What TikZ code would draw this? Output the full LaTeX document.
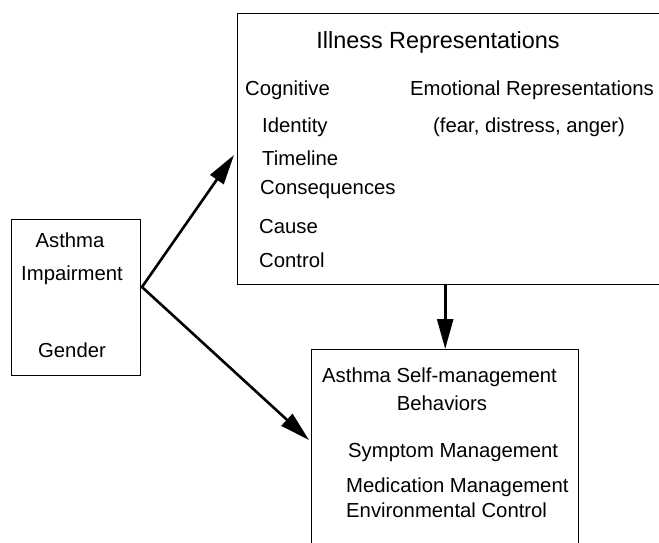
\documentclass[tikz,border=0pt]{standalone}
\usepackage{fontspec}
\setmainfont{Liberation Sans}
\usetikzlibrary{arrows.meta}

\begin{document}
\begin{tikzpicture}[x = 1pt, y = -1pt,
	box/.style = {draw, line width = 1.4pt, inner sep = 0pt, anchor = north west},
	txt/.style = {inner sep = 0pt, font = \fontsize{20.3}{23}\selectfont},
	lbl/.style = {txt, anchor = west},
	link/.style = {line width = 2.6pt, line cap = round, -{Triangle[length = 30pt, width = 16pt]}}]
	%	frame
	\useasboundingbox (0, 0) rectangle (659, 542);
	\clip (0, 0) rectangle (659, 542);
	\fill[white] (0, 0) rectangle (659, 542);
	
	%	boxes
	\node[box, minimum width = 129pt, minimum height = 156pt] (impair) at (11, 219) {};
	\node[box, minimum width = 440pt, minimum height = 271pt] (illness) at (237, 13) {};
	\node[box, minimum width = 267pt, minimum height = 220pt] (selfman) at (311, 349) {};
	
	%	left box
	\node[txt] (asthma) at (70, 240) {Asthma};
	\node[txt] (impairment) at (72, 275) {Impairment};
	\node[txt] (gender) at (72, 350) {Gender};
	
	%	illness representations
	\node[txt, font = \fontsize{23.4}{26}\selectfont] (title) at (438, 42) {Illness Representations};
	\node[lbl] (cognitive) at (245, 90) {Cognitive};
	\node[lbl] (identity) at (262, 127) {Identity};
	\node[lbl] (timeline) at (262, 158) {Timeline};
	\node[lbl] (consequences) at (260, 190) {Consequences};
	\node[lbl] (cause) at (259, 227) {Cause};
	\node[lbl] (control) at (259, 260) {Control};
	\node[lbl] (emotional) at (410, 90) {Emotional Representations};
	\node[lbl] (feelings) at (433, 127) {(fear, distress, anger)};
	
	%	self-management
	\node[lbl] (selftitle) at (322, 377) {Asthma Self-management};
	\node[txt] (behaviors) at (442, 403) {Behaviors};
	\node[lbl] (symptom) at (348, 453) {Symptom Management};
	\node[lbl] (medication) at (346, 487) {Medication Management};
	\node[lbl] (environment) at (346, 510) {Environmental Control};
	
	%	arrows
	\coordinate (fork) at (142, 287);
	\coordinate (illin) at (234, 155);
	\coordinate (selfin) at (309, 440);
	\draw[link] (fork) -- (illin);
	\draw[link] (fork) -- (selfin);
	\draw[link] (selfman.north |- illness.south) -- (selfman.north);
\end{tikzpicture}
\end{document}
